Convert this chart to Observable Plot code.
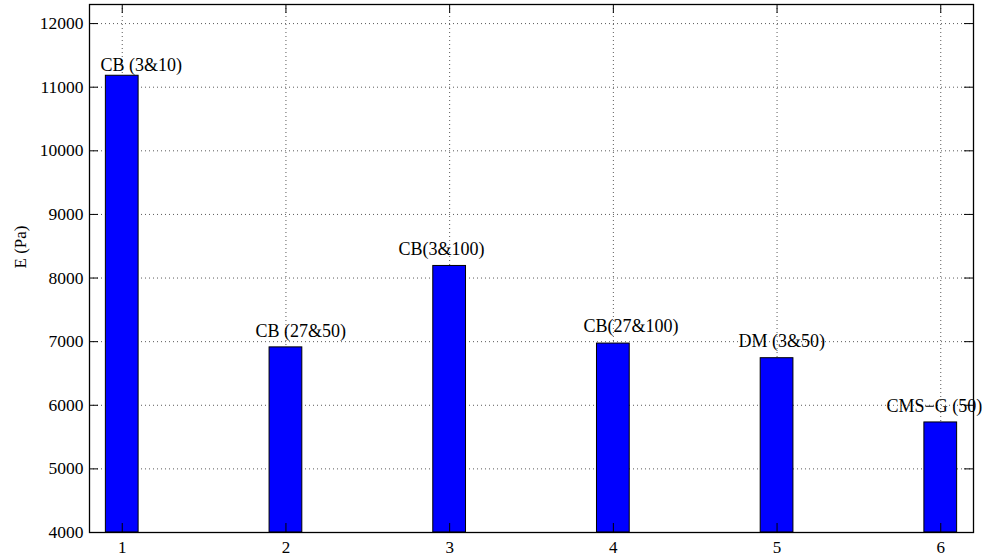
<!DOCTYPE html>
<html><head><meta charset="utf-8">
<script src="https://cdn.jsdelivr.net/npm/d3@7"></script>
<script src="https://cdn.jsdelivr.net/npm/@observablehq/plot@0.6"></script>
<style>
body{margin:0;background:#fff}
svg{display:block}
</style>
</head><body><div id="chart"></div>
<script>
// ---- data ----
const positions = [1, 2, 3, 4, 5, 6];
const values = [11180, 6910, 8190, 6970, 6740, 5730];
const labels = ["CB (3&10)", "CB (27&50)", "CB(3&100)", "CB(27&100)", "DM (3&50)", "CMS\u2212G (50)"];
// label anchors in data units (as placed in the original figure)
const labelX = [0.867, 1.814, 2.688, 3.818, 4.765, 5.669];
const labelY = [11250, 7080, 8355, 7145, 6910, 5890];
const yTicks = [4000, 5000, 6000, 7000, 8000, 9000, 10000, 11000, 12000];
const xTicks = [1, 2, 3, 4, 5, 6];
const yLabel = "E (Pa)";

// ---- layout ----
const W = 989, H = 560, mL = 89, mR = 16, mT = 4, mB = 28;
const fw = W - mL - mR, fh = H - mT - mB, tk = 9, barHalf = 0.1;
const serif = "'Liberation Serif', 'Times New Roman', serif";

const bars = positions.map((p, i) => ({x: p, v: values[i]}));
const texts = labels.map((t, i) => ({x: labelX[i], y: labelY[i], t}));

const plot = Plot.plot({
  width: W, height: H,
  marginLeft: mL, marginRight: mR, marginTop: mT, marginBottom: mB,
  style: {fontFamily: serif, fontSize: "17.5px", background: "#fff", overflow: "visible"},
  x: {domain: [0.8, 6.2], axis: null},
  y: {domain: [4000, 12300], axis: null},
  marks: [
    Plot.ruleY(yTicks.filter(v => v > 4000), {y: d => d, stroke: "#000", strokeOpacity: 0.65, strokeDasharray: "1,3"}),
    Plot.ruleX(xTicks, {x: d => d, stroke: "#000", strokeOpacity: 0.65, strokeDasharray: "1,3"}),
    Plot.rectY(bars, {x1: d => d.x - barHalf, x2: d => d.x + barHalf, y1: 4000, y2: "v", fill: "#0000ff", stroke: "#000", strokeWidth: 1}),
    Plot.tickX(xTicks, {x: d => d, insetTop: fh - tk, stroke: "#000"}),
    Plot.tickX(xTicks, {x: d => d, insetBottom: fh - tk, stroke: "#000"}),
    Plot.tickY(yTicks, {y: d => d, insetRight: fw - tk, stroke: "#000"}),
    Plot.tickY(yTicks, {y: d => d, insetLeft: fw - tk, stroke: "#000"}),
    Plot.frame({stroke: "#000", strokeWidth: 1.3}),
    Plot.axisY(yTicks, {anchor: "left", tickSize: 0, tickPadding: 6, label: null, tickFormat: "d", fontSize: 17.5, fontFamily: serif, fill: "#000"}),
    Plot.axisX(xTicks, {anchor: "bottom", tickSize: 0, tickPadding: 8, label: null, tickFormat: "d", fontSize: 17, fontFamily: serif, fill: "#000"}),
    Plot.text(texts, {x: "x", y: "y", text: "t", textAnchor: "start", lineAnchor: "bottom", fill: "#000", fontSize: 18, fontFamily: serif}),
    Plot.text([yLabel], {text: d => d, frameAnchor: "left", rotate: -90, dx: -69, fontSize: 17, fontFamily: serif, fill: "#000"})
  ]
});
document.getElementById("chart").appendChild(plot);
</script>
</body></html>
